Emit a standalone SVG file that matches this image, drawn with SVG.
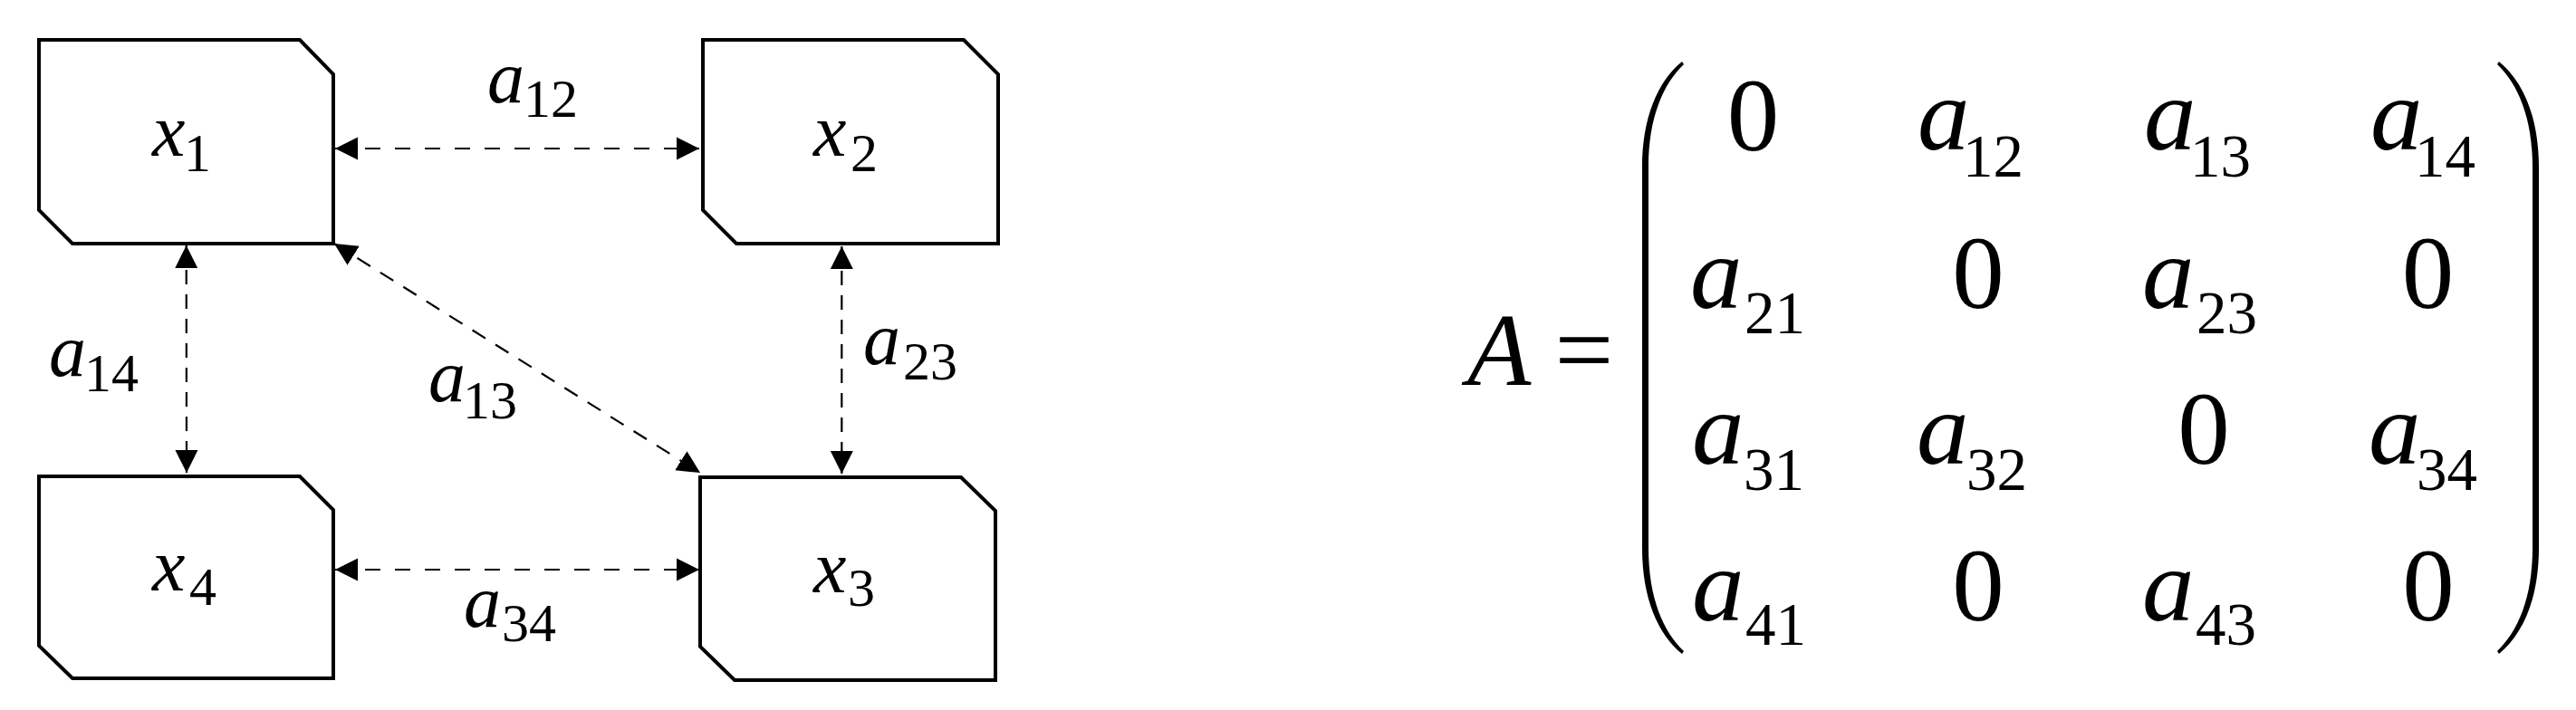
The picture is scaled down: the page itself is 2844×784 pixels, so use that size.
<svg xmlns="http://www.w3.org/2000/svg" width="2844" height="784" viewBox="0 0 2844 784">
<style>
.box{fill:#fff;stroke:#000;stroke-width:4;stroke-linejoin:miter}
.con{fill:none;stroke:#000;stroke-width:2.2;marker-start:url(#ah);marker-end:url(#ah)}
.h{stroke-dasharray:17 16}
.v{stroke-dasharray:16 11}
.d{stroke-dasharray:17 13}
text,tspan{font-family:"Liberation Serif","Times New Roman",Tinos,"DejaVu Serif",serif;fill:#000}
.gi{font-style:italic;font-size:82px}
.gs{font-style:normal;font-size:60px}
.mi{font-style:italic;font-size:115px}
.mu{font-style:normal;font-size:115px}
.ms{font-style:normal;font-size:67px}
</style>
<defs>
<marker id="ah" markerUnits="userSpaceOnUse" markerWidth="26" markerHeight="26" refX="25" refY="12.5" orient="auto-start-reverse" viewBox="0 0 26 25">
<path d="M0,0 L25,12.5 L0,25 Z" fill="#000"/>
</marker>
</defs>
<rect width="2844" height="784" fill="#fff"/>

<g id="connectors">
<line class="con h" x1="370" y1="164" x2="772" y2="164"/>
<line class="con h" x1="370" y1="629" x2="772" y2="629"/>
<line class="con v" x1="205.7" y1="271" x2="206" y2="522"/>
<line class="con v" x1="929.3" y1="272" x2="929.3" y2="523"/>
<line class="con d" x1="369" y1="269" x2="773" y2="522"/>
</g>

<g id="node-x1">
<polygon class="box" points="43,44 331,44 368,82 368,269 80,269 43,232"/>
<text class="gi" font-family="Liberation Serif, serif"><tspan x="168" y="172">x</tspan><tspan class="gs" x="203" y="189">1</tspan></text>
</g>
<g id="node-x2">
<polygon class="box" points="776,44 1064,44 1102,82 1102,269 813,269 776,232"/>
<text class="gi"><tspan x="898" y="172">x</tspan><tspan class="gs" x="939" y="189">2</tspan></text>
</g>
<g id="node-x3">
<polygon class="box" points="773,527 1061,527 1099,564 1099,751 811,751 773,714"/>
<text class="gi"><tspan x="898" y="654">x</tspan><tspan class="gs" x="936" y="669">3</tspan></text>
</g>
<g id="node-x4">
<polygon class="box" points="43,526 331,526 368,563 368,749 80,749 43,713"/>
<text class="gi"><tspan x="168" y="652">x</tspan><tspan class="gs" x="209" y="668">4</tspan></text>
</g>

<g id="edge-labels">
<text class="gi"><tspan x="538" y="113">a</tspan><tspan class="gs" x="578" y="129">12</tspan></text>
<text class="gi"><tspan x="54" y="415">a</tspan><tspan class="gs" x="93" y="432">14</tspan></text>
<text class="gi"><tspan x="473" y="443">a</tspan><tspan class="gs" x="511" y="462">13</tspan></text>
<text class="gi"><tspan x="953" y="402">a</tspan><tspan class="gs" x="997" y="419">23</tspan></text>
<text class="gi"><tspan x="512" y="692">a</tspan><tspan class="gs" x="554" y="708">34</tspan></text>
</g>

<g id="matrix">
<text class="mi" x="1620" y="425">A</text>
<text class="mu" x="1749" y="425" text-anchor="middle">=</text>
<path d="M1857,68 C1830,90 1813,130 1813,185 L1813,605 C1813,660 1830,700 1857,722 L1859,719 C1836,697 1820,660 1820,605 L1820,185 C1820,130 1836,93 1859,71 Z" fill="#000"/>
<path d="M2759,68 C2786,90 2803,130 2803,185 L2803,605 C2803,660 2786,700 2759,722 L2757,719 C2780,697 2796,660 2796,605 L2796,185 C2796,130 2780,93 2757,71 Z" fill="#000"/>

<text class="mu" x="1935.5" y="166" text-anchor="middle">0</text>
<text class="mi"><tspan x="2117" y="165">a</tspan><tspan class="ms" x="2167" y="195">12</tspan></text>
<text class="mi"><tspan x="2367" y="165">a</tspan><tspan class="ms" x="2418" y="195">13</tspan></text>
<text class="mi"><tspan x="2617" y="165">a</tspan><tspan class="ms" x="2666" y="195">14</tspan></text>

<text class="mi"><tspan x="1866" y="340">a</tspan><tspan class="ms" x="1926" y="368">21</tspan></text>
<text class="mu" x="2184" y="340" text-anchor="middle">0</text>
<text class="mi"><tspan x="2365" y="340">a</tspan><tspan class="ms" x="2425" y="368">23</tspan></text>
<text class="mu" x="2680.5" y="340" text-anchor="middle">0</text>

<text class="mi"><tspan x="1868" y="512">a</tspan><tspan class="ms" x="1925" y="541">31</tspan></text>
<text class="mi"><tspan x="2116" y="512">a</tspan><tspan class="ms" x="2171" y="541">32</tspan></text>
<text class="mu" x="2433" y="512" text-anchor="middle">0</text>
<text class="mi"><tspan x="2615" y="512">a</tspan><tspan class="ms" x="2668" y="541">34</tspan></text>

<text class="mi"><tspan x="1868" y="685">a</tspan><tspan class="ms" x="1927" y="712">41</tspan></text>
<text class="mu" x="2184" y="685" text-anchor="middle">0</text>
<text class="mi"><tspan x="2365" y="685">a</tspan><tspan class="ms" x="2424" y="712">43</tspan></text>
<text class="mu" x="2681" y="685" text-anchor="middle">0</text>
</g>
</svg>
